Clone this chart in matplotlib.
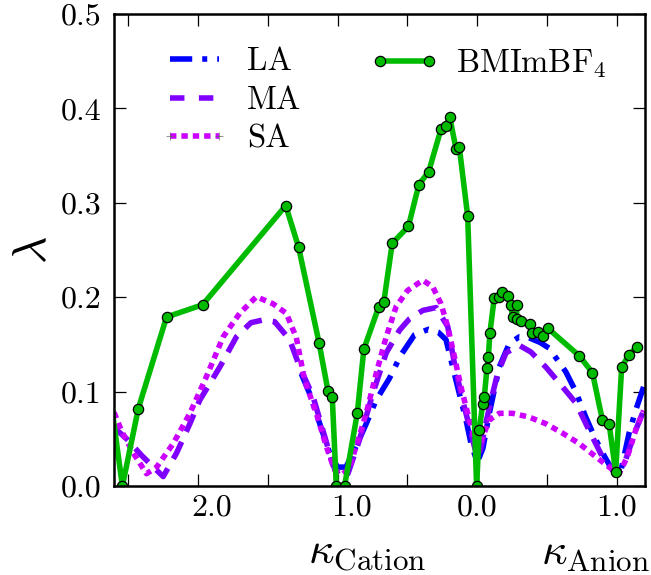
import numpy as np
import matplotlib
matplotlib.use('Agg')
import matplotlib.pyplot as plt
import matplotlib.ticker as ticker
from matplotlib.lines import Line2D

plt.rcParams['font.family'] = 'serif'
plt.rcParams['font.serif'] = ['cmr10']
plt.rcParams['mathtext.fontset'] = 'cm'
plt.rcParams['axes.formatter.use_mathtext'] = True

# x < 0 : kappa_Cation (shown as positive), x > 0 : kappa_Anion
la_x = [-1.26, -1.20, -1.105, -1.057, -1.0, -0.94, -0.867, -0.795, -0.724, -0.629,
        -0.55, -0.45, -0.35, -0.28, -0.224, -0.176, -0.129, -0.081, -0.045, 0.0,
        0.04, 0.086, 0.157, 0.229, 0.30, 0.37, 0.45, 0.514, 0.633, 0.705,
        0.776, 0.848, 0.919, 0.967, 1.0, 1.026, 1.086, 1.133, 1.19]
la_y = [0.119, 0.098, 0.056, 0.035, 0.020, 0.020, 0.042, 0.066, 0.091, 0.114,
        0.138, 0.160, 0.166, 0.163, 0.155, 0.126, 0.098, 0.070, 0.045, 0.025,
        0.040, 0.077, 0.126, 0.151, 0.158, 0.157, 0.152, 0.146, 0.121, 0.100,
        0.073, 0.049, 0.029, 0.017, 0.013, 0.015, 0.056, 0.080, 0.105]

ma_x = [-2.6, -2.51, -2.40, -2.248, -2.152, -2.057, -1.986, -1.843, -1.724, -1.62,
        -1.53, -1.45, -1.343, -1.271, -1.176, -1.105, -1.033, -0.986, -0.926, -0.843,
        -0.748, -0.652, -0.557, -0.486, -0.39, -0.295, -0.212, -0.164, -0.117, -0.069,
        -0.021, 0.0, 0.03, 0.05, 0.098, 0.145, 0.205, 0.30, 0.383, 0.49,
        0.61, 0.705, 0.80, 0.895, 0.99, 1.062, 1.133, 1.19]
ma_y = [0.062, 0.050, 0.032, 0.010, 0.035, 0.066, 0.091, 0.126, 0.158, 0.173,
        0.176, 0.174, 0.155, 0.126, 0.095, 0.059, 0.022, 0.010, 0.013, 0.049,
        0.098, 0.141, 0.165, 0.177, 0.186, 0.189, 0.169, 0.130, 0.098, 0.070,
        0.042, 0.030, 0.042, 0.059, 0.091, 0.119, 0.141, 0.149, 0.142, 0.126,
        0.105, 0.088, 0.059, 0.031, 0.013, 0.028, 0.059, 0.080]

sa_x = [-2.6, -2.545, -2.462, -2.367, -2.295, -2.176, -2.057, -1.938, -1.819, -1.70,
        -1.581, -1.462, -1.367, -1.295, -1.236, -1.152, -1.081, -1.021, -0.97, -0.92,
        -0.867, -0.795, -0.724, -0.652, -0.581, -0.50, -0.39, -0.319, -0.26, -0.212,
        -0.164, -0.117, -0.069, -0.021, 0.0, 0.038, 0.086, 0.157, 0.252, 0.371,
        0.49, 0.61, 0.729, 0.848, 0.943, 1.014, 1.074, 1.133, 1.19]
sa_y = [0.078, 0.058, 0.035, 0.013, 0.020, 0.045, 0.077, 0.116, 0.158, 0.183,
        0.2005, 0.193, 0.183, 0.157, 0.112, 0.077, 0.042, 0.017, 0.012, 0.018,
        0.042, 0.077, 0.119, 0.158, 0.190, 0.207, 0.218, 0.211, 0.193, 0.169,
        0.137, 0.105, 0.077, 0.049, 0.035, 0.052, 0.070, 0.077, 0.077, 0.073,
        0.066, 0.056, 0.045, 0.031, 0.020, 0.013, 0.031, 0.059, 0.080]

bmi_x = [-2.65, -2.54, -2.426, -2.224, -1.966, -1.371, -1.279, -1.133, -1.069, -1.038,
         -1.009, -0.95, -0.859, -0.812, -0.705, -0.669, -0.609, -0.493, -0.419, -0.348,
         -0.260, -0.224, -0.198, -0.152, -0.129, -0.069, -0.005, 0.014, 0.038, 0.050,
         0.069, 0.079, 0.090, 0.121, 0.152, 0.176, 0.221, 0.240, 0.252, 0.281,
         0.283, 0.312, 0.376, 0.390, 0.431, 0.467, 0.505, 0.729, 0.824, 0.895,
         0.943, 0.99, 1.033, 1.086, 1.141]
bmi_y = [0.12, 0.0, 0.082, 0.179, 0.192, 0.297, 0.253, 0.152, 0.101, 0.094,
         0.0, 0.0, 0.077, 0.145, 0.190, 0.195, 0.257, 0.275, 0.319, 0.333,
         0.378, 0.381, 0.391, 0.357, 0.359, 0.286, 0.0, 0.059, 0.087, 0.094,
         0.125, 0.137, 0.162, 0.199, 0.2005, 0.206, 0.201, 0.192, 0.179, 0.192,
         0.177, 0.175, 0.172, 0.162, 0.163, 0.159, 0.167, 0.138, 0.120, 0.070,
         0.066, 0.015, 0.126, 0.139, 0.147]

xlabel_pos = [-1.9, -0.9, 0.0, 1.0]
xlabel_txt = ['2.0', '1.0', '0.0', '1.0']

c_la = '#0000ff'
c_ma = '#8000ff'
c_sa = '#cc00ff'
c_bmi = '#00bb00'

fig = plt.figure(figsize=(6.51, 5.75), dpi=100)
ax = fig.add_axes([114/651, 89/575, 531/651, 472/575])

lw = 4.0
d_la = (4.0, 1.8, 0.9, 1.8)
d_ma = (3.4, 2.0)
d_sa = (1.15, 0.9)
l_la, = ax.plot(la_x, la_y, color=c_la, lw=lw, dashes=d_la)
l_ma, = ax.plot(ma_x, ma_y, color=c_ma, lw=lw, dashes=d_ma)
l_sa, = ax.plot(sa_x, sa_y, color=c_sa, lw=lw, dashes=d_sa)
l_bmi, = ax.plot(bmi_x, bmi_y, color=c_bmi, lw=lw, marker='o', ms=7.4,
                 mfc=c_bmi, mec='k', mew=0.9)

ax.set_xlim(-2.6, 1.2)
ax.set_ylim(0, 0.5)

# tick marks every 0.5, labels on separate (invisible) ticks
ax.xaxis.set_major_locator(ticker.MultipleLocator(0.5))
ax.xaxis.set_major_formatter(ticker.NullFormatter())
ax.xaxis.set_minor_locator(ticker.FixedLocator(xlabel_pos))
ax.xaxis.set_minor_formatter(ticker.FixedFormatter(xlabel_txt))
ax.xaxis.remove_overlapping_locs = False
ax.yaxis.set_major_locator(ticker.MultipleLocator(0.1))
ax.yaxis.set_major_formatter(ticker.FormatStrFormatter('%.1f'))
ax.yaxis.set_minor_locator(ticker.NullLocator())

ax.tick_params(which='major', direction='in', length=8.6, width=0.9,
               top=True, right=True, labelsize=23, pad=9)
ax.tick_params(axis='x', which='minor', length=0, labelsize=23, pad=6)
for sp in ax.spines.values():
    sp.set_linewidth(1.8)

ax.set_ylabel(r'$\lambda$', fontsize=34, labelpad=4)
ax.text(0.476, -0.1, r'$\kappa_{\rm Cation}$', transform=ax.transAxes,
        ha='center', va='top', fontsize=32)
ax.text(0.906, -0.1, r'$\kappa_{\rm Anion}$', transform=ax.transAxes,
        ha='center', va='top', fontsize=32)

h_la = Line2D([], [], color=c_la, lw=lw, dashes=d_la)
h_ma = Line2D([], [], color=c_ma, lw=lw, dashes=(2.6, 2.6))
h_sa = Line2D([], [], color=c_sa, lw=lw, dashes=d_sa, marker='+',
              ms=6, mec='0.4', mew=0.5)
leg1 = ax.legend([h_la, h_ma, h_sa], ['LA', 'MA', 'SA'], loc='upper left',
                 bbox_to_anchor=(0.087, 0.93), frameon=False, borderpad=0,
                 borderaxespad=0, handlelength=2.1, handletextpad=0.55,
                 labelspacing=0.3, fontsize=23.5, numpoints=2)
ax.add_artist(leg1)
ax.legend([l_bmi], [r'BMImBF$_4$'], loc='upper left',
          bbox_to_anchor=(0.482, 0.93), frameon=False, borderpad=0,
          borderaxespad=0, handlelength=2.1, handletextpad=0.55,
          fontsize=23.5, numpoints=2)

fig.savefig('out.png', dpi=100)
